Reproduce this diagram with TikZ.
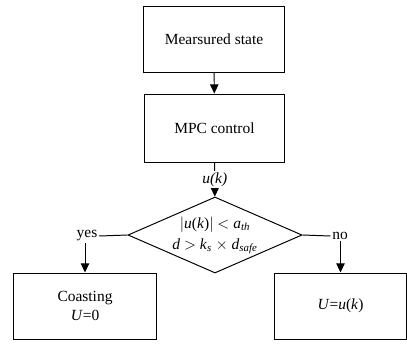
\documentclass[tikz,border=0pt]{standalone}
\usepackage{fontspec}
\setmainfont{Liberation Serif}
\usetikzlibrary{shapes.geometric}
\usetikzlibrary{arrows.meta}
\tikzstyle{flow}=[line width=0.7pt]
\tikzstyle{arrow}=[flow, -{Triangle[width=6pt, length=6.5pt]}]
\tikzstyle{block}=[draw, line width=0.7pt, align=center, font=\fontsize{11}{13}\selectfont]
\tikzstyle{decision}=[draw, diamond, aspect=2.3, line width=0.7pt, inner sep=0pt, align=center,
  minimum width=4.35cm, minimum height=1.9cm, font=\fontsize{11}{15}\selectfont]
\tikzstyle{branch}=[inner sep=1pt, font=\fontsize{11}{13}\selectfont]

\begin{document}
\begin{tikzpicture}[x=0.025cm, y=-0.025cm]
      \useasboundingbox (0, 0) rectangle (407, 343);
      \node[block, minimum width=3.5cm, minimum height=1.65cm] (meas) at (214, 39) {Mearsured state};
      \node[block, minimum width=3.5cm, minimum height=1.7cm] (mpc) at (214.5, 128) {MPC control};
      \node[decision] (dec) at (215, 235)
        {$\big|$\textit{u}(\textit{k})$\big|$ $<$ \textit{a}\textsubscript{\textit{th}}\\
         \textit{d} $>$ \textit{k}\textsubscript{\textit{s}} $\times$ \textit{d}\textsubscript{\textit{safe}}};
      \node[block, minimum width=3.55cm, minimum height=1.65cm] (coast) at (85, 306) {Coasting\\\textit{U}=0};
      \node[block, minimum width=3.3cm, minimum height=1.65cm] (keep) at (340.5, 306) {\textit{U}=\textit{u}(\textit{k})};
      \node[branch] (yes) at (87, 236) {yes};
      \node[branch] (no) at (340, 236) {no};
      \draw[arrow] (meas) -- (mpc);
      \draw[arrow] (mpc) -- node[fill=white, branch] {\textit{u(k)}} (dec);
      \draw[flow] (dec.west) -- (yes.east);
      \draw[flow] (dec.east) -- (no.west);
      \draw[arrow] (yes.south -| coast.north) -- (coast.north);
      \draw[arrow] (no.south -| keep.north) -- (keep.north);
    \end{tikzpicture}
\end{document}
